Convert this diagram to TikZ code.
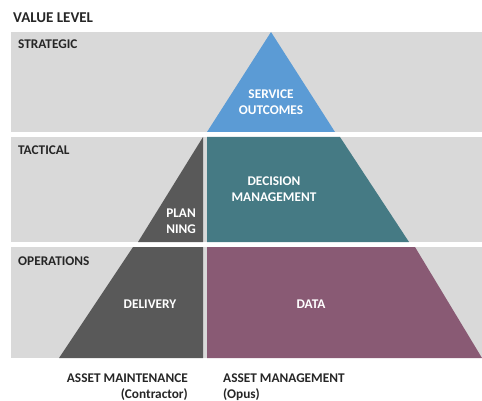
\documentclass[tikz,border=0pt]{standalone}
\usepackage{fontspec}
\setmainfont{Carlito}
\usetikzlibrary{positioning}
\definecolor{bandgray}{RGB}{217,217,217}
\definecolor{svcblue}{RGB}{91,155,213}
\definecolor{decteal}{RGB}{69,122,132}
\definecolor{datapurple}{RGB}{137,90,116}
\definecolor{delgray}{RGB}{89,89,89}

\begin{document}
\begin{tikzpicture}[x=1pt,y=-1pt,
  lvl/.style={anchor=base west,inner sep=0pt,font=\bfseries\fontsize{13.3}{16}\selectfont,text=black!85},
  inlbl/.style={inner sep=0pt,font=\bfseries\fontsize{13.3}{16}\selectfont,text=white,align=center}]
\useasboundingbox (0,0) rectangle (482,401);

% bands
\fill[bandgray] (11,32) rectangle (482,132);
\fill[bandgray] (11,137) rectangle (482,242);
\fill[bandgray] (11,247) rectangle (482,358);

% Strategic: service outcomes
\fill[svcblue] (271,32) -- (335,132) -- (207,132) -- cycle;

% Tactical: planning + decision management
\fill[delgray] (203,137) -- (203,242) -- (138,242) -- cycle;
\fill[decteal] (207,137) -- (340,137) -- (409,242) -- (207,242) -- cycle;

% Operations: delivery + data
\fill[delgray] (133,247) -- (203,247) -- (203,358) -- (59,358) -- cycle;
\fill[datapurple] (207,247) -- (415,247) -- (482,358) -- (207,358) -- cycle;

% level labels
\node[lvl,font=\bfseries\fontsize{15}{18}\selectfont] (value) at (13,22.7) {VALUE LEVEL};
\node[lvl] (strategic) at (18,48.3) {STRATEGIC};
\node[lvl] (tactical) at (18,154) {TACTICAL};
\node[lvl] (operations) at (18,265.5) {OPERATIONS};

% block labels
\node[inlbl,anchor=north] (service) at (271,90) {SERVICE\\OUTCOMES};
\node[inlbl,anchor=north] (decision) at (274,176.7) {DECISION\\MANAGEMENT};
\node[inlbl,anchor=north east,align=right] (planning) at (196,208.3) {PLAN\\NING};
\node[inlbl,anchor=base] (delivery) at (150,308) {DELIVERY};
\node[inlbl,anchor=base] (data) at (311,308) {DATA};

% owners
\node[lvl,anchor=north east,align=right] (maint) at (188,374) {ASSET MAINTENANCE\\(Contractor)};
\node[lvl,anchor=north west,align=left] (mgmt) at (223,374) {ASSET MANAGEMENT\\(Opus)};
\end{tikzpicture}
\end{document}
